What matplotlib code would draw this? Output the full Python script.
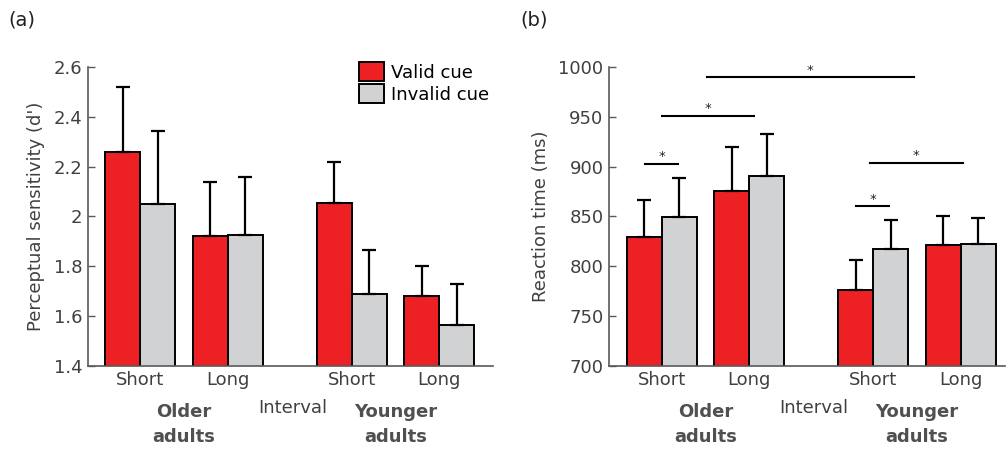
import numpy as np
import matplotlib.pyplot as plt
from matplotlib.patches import Patch

# bar positions (bar width = 1), Short/Long for older then younger adults
centers = np.array([0.0, 2.5, 6.05, 8.55])
tick_labels = ["Short", "Long", "Short", "Long"]

# (a) perceptual sensitivity d'
dp_valid = [2.26, 1.92, 2.055, 1.68]
dp_valid_err = [0.26, 0.22, 0.165, 0.12]
dp_invalid = [2.05, 1.925, 1.69, 1.565]
dp_invalid_err = [0.295, 0.235, 0.175, 0.165]

# (b) reaction time (ms)
rt_valid = [829, 876, 776, 821]
rt_valid_err = [38, 44, 30, 29]
rt_invalid = [849, 891, 817, 822]
rt_invalid_err = [40, 42, 29, 26]

# significance brackets: (x start, x end, height)
sig_brackets = [(-0.47, 0.48, 903), (0.0, 2.65, 951), (1.3, 7.2, 990),
                (5.55, 6.5, 860), (5.95, 8.6, 904)]

RED = "#ED2024"
GREY = "#D1D2D4"
TXT = "#404040"
SPINE = "#595959"

plt.rcParams['font.family'] = ['DejaVu Sans']
plt.rcParams['font.size'] = 13

fig = plt.figure(figsize=(10.06, 4.5), dpi=100)
axa = fig.add_axes([0.0875, 0.187, 0.403, 0.664])
axb = fig.add_axes([0.6054, 0.187, 0.394, 0.664])


def draw_panel(ax, valid, verr, invalid, ierr, ylim, yticks, ylabel, xlim):
    ekw = dict(ecolor="black", elinewidth=1.6, capsize=5, capthick=1.6)
    ax.bar(centers - 0.5, valid, width=1.0, color=RED, edgecolor="black",
           linewidth=1.4, yerr=[np.zeros(4), verr], error_kw=ekw, zorder=2)
    ax.bar(centers + 0.5, invalid, width=1.0, color=GREY, edgecolor="black",
           linewidth=1.4, yerr=[np.zeros(4), ierr], error_kw=ekw, zorder=2)
    ax.set_ylim(*ylim)
    ax.set_xlim(*xlim)
    ax.set_yticks(yticks)
    ax.set_yticklabels([("%g" % t) for t in yticks], color=TXT)
    ax.set_xticks(centers)
    ax.set_xticklabels(tick_labels, color=TXT)
    ax.tick_params(axis="x", length=0, pad=4)
    ax.tick_params(axis="y", direction="in", length=5, width=1, color=SPINE, pad=4)
    ax.set_ylabel(ylabel, color=TXT, labelpad=6)
    for s in ["top", "right"]:
        ax.spines[s].set_visible(False)
    for s in ["left", "bottom"]:
        ax.spines[s].set_color(SPINE)
        ax.spines[s].set_linewidth(1.2)
    # group labels
    tr = ax.get_xaxis_transform()
    ax.text(1.25, -0.125, "Older\nadults", transform=tr, ha="center", va="top",
            fontweight="bold", color="#505050", linespacing=1.45)
    ax.text(7.3, -0.125, "Younger\nadults", transform=tr, ha="center", va="top",
            fontweight="bold", color="#505050", linespacing=1.45)
    ax.text(4.35, -0.11, "Interval", transform=tr, ha="center", va="top", color=TXT)


draw_panel(axa, dp_valid, dp_valid_err, dp_invalid, dp_invalid_err,
           (1.4, 2.6), [1.4, 1.6, 1.8, 2.0, 2.2, 2.4, 2.6],
           "Perceptual sensitivity (d')", (-1.5, 10.1))
draw_panel(axb, rt_valid, rt_valid_err, rt_invalid, rt_invalid_err,
           (700, 1000), [700, 750, 800, 850, 900, 950, 1000],
           "Reaction time (ms)", (-1.5, 9.82))

for x1, x2, y in sig_brackets:
    axb.plot([x1, x2], [y, y], color="black", lw=1.5, clip_on=False)
    axb.text((x1 + x2) / 2, y + 0.5, "*", ha="center", va="bottom", fontsize=9.5,
             color="#222222")

handles = [Patch(facecolor=RED, edgecolor="black", linewidth=1.4, label="Valid cue"),
           Patch(facecolor=GREY, edgecolor="black", linewidth=1.4, label="Invalid cue")]
axa.legend(handles=handles, loc="upper right", bbox_to_anchor=(1.03, 1.07),
           frameon=False, handlelength=1.4, handleheight=1.2, handletextpad=0.4,
           labelspacing=0.15, fontsize=13)

fig.text(0.008, 0.955, "(a)", fontsize=14, color="#222222", va="center")
fig.text(0.517, 0.955, "(b)", fontsize=14, color="#222222", va="center")

fig.savefig("out.png", dpi=100)
